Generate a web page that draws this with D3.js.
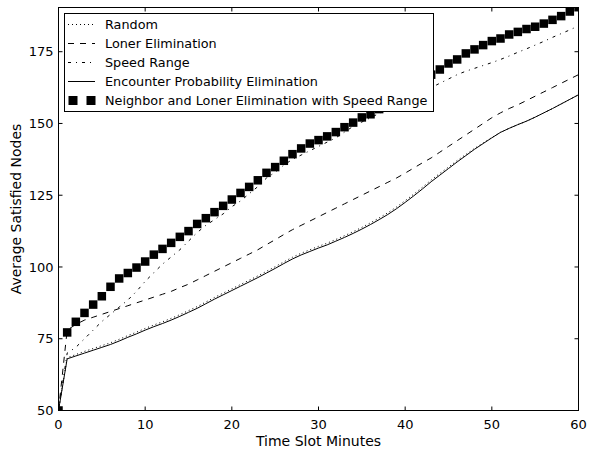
<!DOCTYPE html>
<html>
<head>
<meta charset="utf-8">
<script src="https://cdn.jsdelivr.net/npm/d3@7"></script>
<style>
  body { margin: 0; background: #fff; }
  text { font-family: "DejaVu Sans", sans-serif; fill: #000; }
</style>
</head>
<body>
<div id="graphic"></div>
<script>
// values (one per minute, 0..60)
var minutes = d3.range(0, 61);

var randomVals = [50, 68.4, 69.5, 70.6, 71.6, 72.6, 73.6, 74.8, 76.1, 77.3,
  78.6, 79.8, 80.9, 82.1, 83.4, 84.8, 86.2, 87.8, 89.4, 90.9,
  92.4, 93.9, 95.4, 96.9, 98.5, 100.1, 101.8, 103.4, 104.8, 106.0,
  107.2, 108.3, 109.6, 110.9, 112.3, 113.8, 115.4, 117.1, 118.9, 120.9,
  123.1, 125.4, 127.8, 130.3, 132.6, 134.8, 137.1, 139.2, 141.3, 143.2,
  145.1, 146.9, 148.3, 149.6, 150.8, 152.2, 153.7, 155.2, 156.8, 158.4, 160];

var lonerVals = [50, 78, 80, 81.5, 82.5, 83.5, 84.5, 85.5, 86.5, 87.5,
  88.5, 89.5, 90.5, 91.5, 92.8, 94, 95.5, 97, 98.5, 100,
  101.5, 103, 104.5, 106, 107.8, 109.5, 111.3, 113, 114.5, 116,
  117.5, 119, 120.5, 122, 123.5, 125, 126.5, 128, 129.5, 131,
  132.7, 134.5, 136.3, 138, 140, 142, 144, 146, 148, 150,
  152, 153.7, 155.2, 156.5, 158, 159.5, 161, 162.5, 164, 165.5, 167];

var speedVals = [50, 70, 72, 75, 78, 81, 83.5, 86, 88.5, 91.5,
  95, 98, 101, 103.5, 106, 109, 112, 114.5, 116.5, 118.5,
  121, 123, 125.5, 128, 131, 133, 135.5, 137.5, 139, 140.5,
  142, 143.5, 145, 147, 149, 150.5, 152, 153.5, 155, 156.5,
  158, 159.5, 161, 162.5, 164, 165.5, 167, 168.2, 169.2, 170.2,
  171.2, 172.3, 173.5, 174.8, 176, 177.3, 178.6, 180, 181.3, 182.6, 184];

var encounterVals = [50, 68, 69, 70, 71, 72, 73, 74.2, 75.5, 76.7,
  78, 79.2, 80.3, 81.5, 82.8, 84.2, 85.6, 87.2, 88.8, 90.3,
  91.8, 93.3, 94.8, 96.3, 97.9, 99.5, 101.2, 102.8, 104.2, 105.4,
  106.6, 107.7, 109, 110.3, 111.7, 113.2, 114.8, 116.5, 118.3, 120.3,
  122.5, 124.8, 127.2, 129.7, 132, 134.3, 136.6, 138.8, 141, 143,
  145, 146.9, 148.3, 149.6, 150.8, 152.2, 153.7, 155.2, 156.8, 158.4, 160];

var neighborVals = [50, 77.2, 80.9, 84, 86.9, 89.8, 93.1, 96, 97.9, 99.8,
  101.9, 104.3, 106.3, 108.4, 110.5, 112.5, 115, 117, 119.1, 121.3,
  123.5, 125.8, 127.9, 130.2, 132.8, 134.8, 137, 139.3, 141.3, 143,
  144.2, 145.5, 147, 148.7, 150.3, 152.1, 153.2, 155, 157, 159,
  161, 163, 165, 167, 168.8, 170.9, 172.3, 174.4, 175.8, 177.3,
  178.7, 179.6, 181, 181.9, 182.9, 183.7, 184.8, 186.1, 187.4, 189, 190.5];

var seriesNames = ["Random", "Loner Elimination", "Speed Range",
  "Encounter Probability Elimination", "Neighbor and Loner Elimination with Speed Range"];
var xTicks = [0, 10, 20, 30, 40, 50, 60];
var yTicks = [50, 75, 100, 125, 150, 175];

var width = 589, height = 453;
var margin = {top: 7.5, right: 10.5, bottom: 42.5, left: 58.5};
var innerW = width - margin.left - margin.right,
    innerH = height - margin.top - margin.bottom;

var svg = d3.select("#graphic").append("svg")
  .attr("width", width)
  .attr("height", height);

var x = d3.scaleLinear().domain([0, 60]).range([0, innerW]);
var y = d3.scaleLinear().domain([50, 190.4]).range([innerH, 0]);

var plot = svg.append("g").attr("transform", "translate(" + margin.left + "," + margin.top + ")");

plot.append("defs").append("clipPath").attr("id", "clip")
  .append("rect").attr("width", innerW).attr("height", innerH);

var lines = [
  {name: seriesNames[0], values: randomVals, dash: "1,3"},
  {name: seriesNames[1], values: lonerVals, dash: "6,6"},
  {name: seriesNames[2], values: speedVals, dash: "3,5,1,5"},
  {name: seriesNames[3], values: encounterVals, dash: null}
];

var lineGen = d3.line()
  .x(function(d) { return x(d[0]); })
  .y(function(d) { return y(d[1]); });

var data = plot.append("g").attr("clip-path", "url(#clip)");

lines.forEach(function(s) {
  data.append("path")
    .datum(minutes.map(function(m, i) { return [m, s.values[i]]; }))
    .attr("d", lineGen)
    .attr("fill", "none")
    .attr("stroke", "#000")
    .attr("stroke-width", 1)
    .attr("stroke-dasharray", s.dash);
});

var sq = 8.5;
data.selectAll(".sq")
  .data(minutes.map(function(m, i) { return [m, neighborVals[i]]; }))
  .enter().append("rect")
  .attr("class", "sq")
  .attr("x", function(d) { return x(d[0]) - sq / 2; })
  .attr("y", function(d) { return y(d[1]) - sq / 2; })
  .attr("width", sq)
  .attr("height", sq)
  .attr("fill", "#000");

// frame
plot.append("rect")
  .attr("width", innerW).attr("height", innerH)
  .attr("fill", "none").attr("stroke", "#000").attr("stroke-width", 1);

// ticks inward, all four sides
var tl = 4;
xTicks.forEach(function(t) {
  plot.append("line").attr("x1", x(t)).attr("x2", x(t)).attr("y1", innerH).attr("y2", innerH - tl).attr("stroke", "#000");
  plot.append("line").attr("x1", x(t)).attr("x2", x(t)).attr("y1", 0).attr("y2", tl).attr("stroke", "#000");
  plot.append("text").attr("x", x(t)).attr("y", innerH + 18.5)
    .attr("text-anchor", "middle").style("font-size", "13px").text(t);
});
yTicks.forEach(function(t) {
  plot.append("line").attr("x1", 0).attr("x2", tl).attr("y1", y(t)).attr("y2", y(t)).attr("stroke", "#000");
  plot.append("line").attr("x1", innerW).attr("x2", innerW - tl).attr("y1", y(t)).attr("y2", y(t)).attr("stroke", "#000");
  plot.append("text").attr("x", -5).attr("y", y(t)).attr("dy", "0.36em")
    .attr("text-anchor", "end").style("font-size", "13px").text(t);
});

svg.append("text")
  .attr("x", margin.left + innerW / 2).attr("y", 446)
  .attr("text-anchor", "middle").style("font-size", "14px")
  .text("Time Slot Minutes");

svg.append("text")
  .attr("transform", "translate(21," + (margin.top + innerH / 2) + ") rotate(-90)")
  .attr("text-anchor", "middle").style("font-size", "14px")
  .text("Average Satisfied Nodes");

// legend
var legend = svg.append("g");
legend.append("rect")
  .attr("x", 64.5).attr("y", 13.5).attr("width", 369).attr("height", 98)
  .attr("fill", "#fff").attr("stroke", "#000").attr("stroke-width", 1);

var rowY = function(i) { return 24.5 + i * 19; };

lines.forEach(function(s, i) {
  legend.append("line")
    .attr("x1", 68).attr("x2", 95).attr("y1", rowY(i)).attr("y2", rowY(i))
    .attr("stroke", "#000").attr("stroke-width", 1)
    .attr("stroke-dasharray", s.dash);
});
[73, 91].forEach(function(cx) {
  legend.append("rect")
    .attr("x", cx - 4.5).attr("y", rowY(4) - 4.5).attr("width", 9).attr("height", 9)
    .attr("fill", "#000");
});
seriesNames.forEach(function(n, i) {
  legend.append("text").attr("x", 105).attr("y", rowY(i)).attr("dy", "0.36em")
    .style("font-size", "12.8px").text(n);
});
</script>
</body>
</html>
